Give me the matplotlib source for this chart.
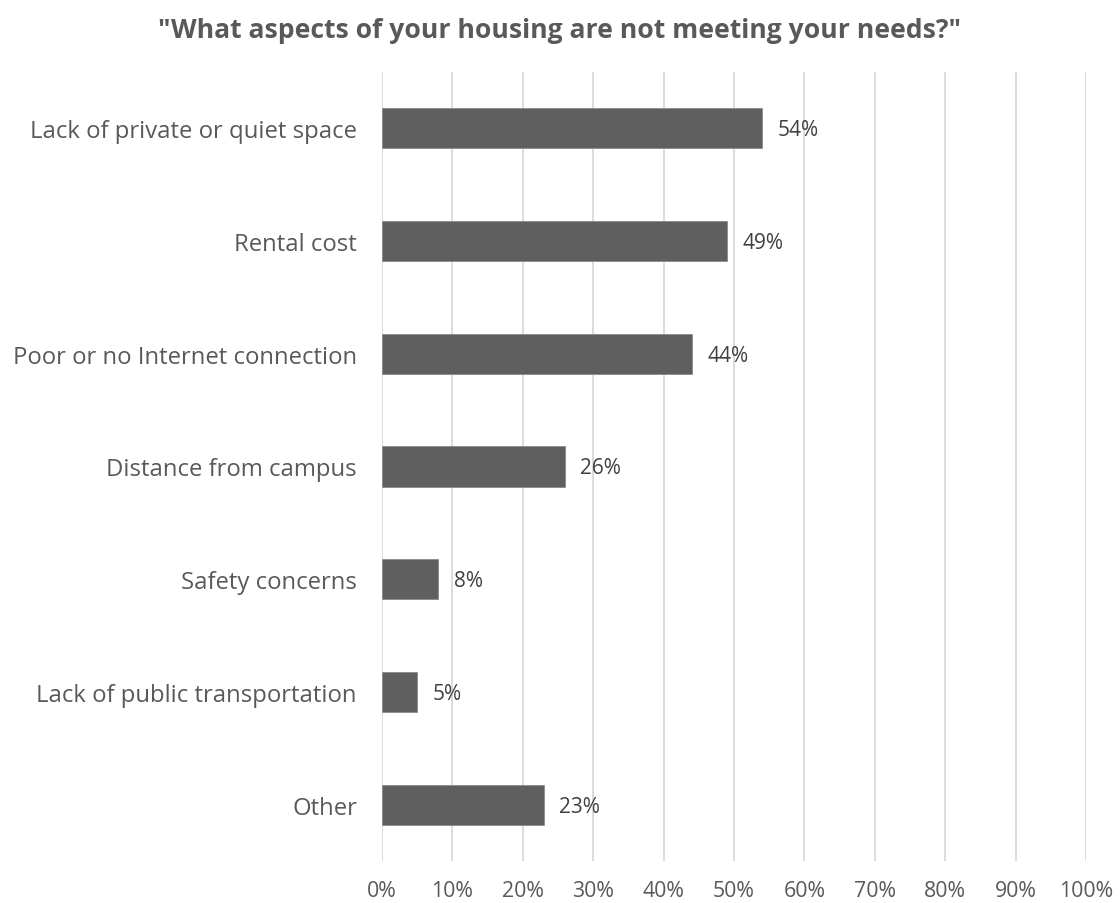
import matplotlib
matplotlib.use("Agg")
import matplotlib.pyplot as plt
from matplotlib.ticker import FixedLocator

plt.rcParams['font.family'] = ['Open Sans', 'DejaVu Sans']

categories = [
    "Lack of private or quiet space",
    "Rental cost",
    "Poor or no Internet connection",
    "Distance from campus",
    "Safety concerns",
    "Lack of public transportation",
    "Other",
]
values = [54, 49, 44, 26, 8, 5, 23]
x_ticks = [0, 10, 20, 30, 40, 50, 60, 70, 80, 90, 100]
x_tick_labels = [f"{t}%" for t in x_ticks]
title = '"What aspects of your housing are not meeting your needs?"'

bar_color = "#5f5f5f"
text_color = "#595959"
grid_color = "#d9d9d9"

fig = plt.figure(figsize=(11.2, 9.04), dpi=100)
ax = fig.add_axes([382 / 1120, 1 - 862 / 904, (1086 - 382) / 1120, (862 - 73) / 904])

y = list(range(len(categories)))
ax.barh(y, values, height=0.355, color=bar_color, edgecolor="#8a8a8a",
        linewidth=0.6, zorder=3)

for yi, v in zip(y, values):
    ax.annotate(f"{v}%", xy=(v, yi), xytext=(11, -1), textcoords="offset points",
                va="center", ha="left", fontsize=15, color="#404040")

ax.set_xlim(0, 100)
ax.set_ylim(len(categories) - 0.5, -0.5)
ax.xaxis.set_major_locator(FixedLocator(x_ticks))
ax.set_xticklabels(x_tick_labels)
ax.set_yticks(y)
ax.set_yticklabels(categories)

ax.grid(axis="x", color=grid_color, linewidth=1.3, zorder=0)
for s in ax.spines.values():
    s.set_visible(False)
ax.tick_params(axis="x", length=0, pad=14, labelsize=15.3, labelcolor=text_color)
ax.tick_params(axis="y", length=0, pad=18, labelsize=17.2, labelcolor=text_color)

fig.text(0.5, 1 - 31 / 904, title, ha="center", va="center",
         fontsize=19.1, fontweight="bold", color=text_color)

fig.savefig("out.png", dpi=100, facecolor="white")
